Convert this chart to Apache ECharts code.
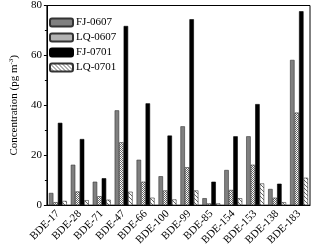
<!DOCTYPE html>
<html><head><meta charset="utf-8">
<script src="https://cdn.jsdelivr.net/npm/echarts@6/dist/echarts.min.js"></script>
<style>html,body{margin:0;padding:0;background:#fff}#c{width:312px;height:248px}</style>
</head><body><div id="c"></div>
<script>
var categories = ['BDE-17','BDE-28','BDE-71','BDE-47','BDE-66','BDE-100','BDE-99','BDE-85','BDE-154','BDE-153','BDE-138','BDE-183'];
var fj0607 = [4.9, 16.2, 9.4, 38.0, 18.2, 11.6, 31.6, 2.8, 14.1, 27.6, 6.5, 58.2];
var lq0607 = [1.2, 5.5, 3.6, 25.2, 9.4, 5.9, 15.2, 0.7, 6.1, 16.2, 3.0, 37.1];
var fj0701 = [33.0, 26.5, 10.8, 71.8, 40.8, 27.9, 74.5, 9.4, 27.6, 40.5, 8.6, 77.7];
var lq0701 = [1.7, 2.0, 2.2, 5.4, 3.0, 2.3, 5.9, 0.7, 2.8, 8.7, 1.2, 11.0];
var seriesNames = ['FJ-0607','LQ-0607','FJ-0701','LQ-0701'];
var yTicks = [0, 20, 40, 60, 80];

function makePattern(kind){
  var c = document.createElement('canvas');
  var s = kind === 'check' ? 2 : 4;
  c.width = s; c.height = s;
  var g = c.getContext('2d');
  g.fillStyle = '#fff'; g.fillRect(0,0,s,s);
  g.fillStyle = '#666';
  if (kind === 'check') { g.fillRect(0,0,1,1); g.fillRect(1,1,1,1); }
  else { for (var i=0;i<s;i++) g.fillRect(i,i,1,1); }
  return {image: c, repeat: 'repeat'};
}
var font = 'Liberation Serif';
var chart = echarts.init(document.getElementById('c'), null, {renderer:'canvas'});
var styles = [
  {color:'#808080', borderColor:'#333', borderWidth:0.6},
  {color:makePattern('check'), borderColor:'#333', borderWidth:0.6},
  {color:'#000', borderColor:'#000', borderWidth:0.6},
  {color:makePattern('hatch'), borderColor:'#333', borderWidth:0.6}
];
var data = [fj0607, lq0607, fj0701, lq0701];
chart.setOption({
  animation:false,
  textStyle:{fontFamily:font},
  grid:{left:37.5, right:2, top:5, bottom:41, show:true, borderColor:'#000', borderWidth:1, backgroundColor:'transparent'},
  legend:{orient:'vertical', left:44, top:12, itemWidth:23, itemHeight:8, itemGap:4,
    textStyle:{fontFamily:font, fontSize:11, color:'#000', padding:[0,0,0,-2]},
    data:seriesNames},
  xAxis:{type:'category', data:categories,
    axisLine:{lineStyle:{color:'#000'}}, axisTick:{show:false},
    axisLabel:{rotate:45, fontFamily:font, fontSize:11, color:'#000', margin:7, interval:0, hideOverlap:false}},
  yAxis:{type:'value', min:yTicks[0], max:yTicks[yTicks.length-1], interval:20,
    name:'Concentration (pg m{sup|-3})', nameLocation:'middle', nameGap:24,
    nameTextStyle:{fontFamily:font, fontSize:11, color:'#000',
      rich:{sup:{fontFamily:font, fontSize:7, color:'#000', verticalAlign:'top', padding:[0,0,6,0]}}},
    splitLine:{show:false},
    axisLine:{show:true, lineStyle:{color:'#000'}},
    axisTick:{show:true, inside:false, length:3, lineStyle:{color:'#000'}},
    minorTick:{show:true, splitNumber:2, length:2, lineStyle:{color:'#000'}},
    axisLabel:{fontFamily:font, fontSize:11, color:'#000', margin:5}},
  series: seriesNames.map(function(n,i){
    return {name:n, type:'bar', data:data[i], itemStyle:styles[i], barGap:'0%', barCategoryGap:'18%'};
  })
});
</script></body></html>
